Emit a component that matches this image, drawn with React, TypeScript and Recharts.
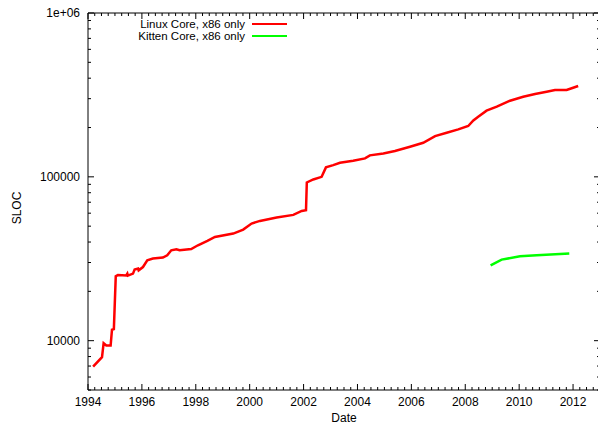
import { LineChart, Line, XAxis, YAxis, ReferenceLine } from 'recharts'

// Linux core SLOC (x86 only)
const LINUX_DATES = [
  1994.19, 1994.52, 1994.58, 1994.68, 1994.84, 1994.89, 1994.96, 1995.03, 1995.11, 1995.42,
  1995.46, 1995.48, 1995.67, 1995.73, 1995.86, 1995.88, 1996.04, 1996.2, 1996.41, 1996.78,
  1996.94, 1997.09, 1997.28, 1997.4, 1997.83, 1998.08, 1998.43, 1998.71, 1999.39, 1999.76,
  2000.07, 2000.38, 2001.0, 2001.62, 2001.93, 2002.09, 2002.12, 2002.36, 2002.67, 2002.83,
  2003.1, 2003.35, 2003.84, 2004.28, 2004.46, 2004.96, 2005.39, 2005.95, 2006.44, 2006.88,
  2007.31, 2007.74, 2008.11, 2008.3, 2008.48, 2008.79, 2009.17, 2009.66, 2010.15, 2010.59,
  2011.02, 2011.33, 2011.76, 2011.95, 2012.19,
]
const LINUX_SLOC = [
  6950, 7930, 9650, 9350, 9350, 11660, 11760, 24700, 25160, 25000,
  25660, 24930, 25660, 27140, 27530, 26880, 28150, 30940, 31700, 32140,
  33200, 35610, 36120, 35610, 36270, 38220, 40600, 42950, 45060, 47680,
  51880, 53820, 56460, 58560, 61940, 62550, 92400, 96400, 100000, 114200,
  117900, 121800, 125300, 129600, 135200, 139000, 143700, 152600, 161500, 177400,
  185800, 194900, 204200, 220700, 232800, 253300, 268000, 291500, 308500, 320500,
  331100, 339100, 339100, 347300, 358600,
]

// Kitten core SLOC (x86 only)
const KITTEN_DATES = [2008.94, 2009.35, 2010.03, 2010.65, 2011.86]
const KITTEN_SLOC = [28830, 31240, 32730, 33200, 33990]

const X_MIN = 1994
const X_MAX = 2013
const Y_MIN = 5000
const Y_MAX = 1000000

const linux = LINUX_DATES.map((t, i) => ({ t, v: LINUX_SLOC[i] }))
const kitten = KITTEN_DATES.map((t, i) => ({ t, v: KITTEN_SLOC[i] }))

// quarter-year ticks, labelled every two years
const xTicks: number[] = []
for (let q = X_MIN * 4; q <= X_MAX * 4; q++) xTicks.push(q / 4)

// log ticks 1..9 per decade
const yTicks: number[] = []
for (let d = 1000; d <= Y_MAX; d *= 10) {
  for (let m = 1; m <= 9; m++) {
    const v = d * m
    if (v >= Y_MIN && v <= Y_MAX) yTicks.push(v)
  }
}

const PLOT_TOP = 13
const PLOT_RIGHT = 600
const FONT = '"Liberation Sans", Arial, sans-serif'

function XTick(props: any) {
  const { x, y, payload } = props
  const v = payload.value
  const major = Math.abs(v - Math.round(v)) < 1e-6 && Math.round(v) % 2 === 0
  const len = major ? 6 : 3
  return (
    <g>
      <line x1={x} x2={x} y1={y} y2={y - len} stroke="#000" />
      <line x1={x} x2={x} y1={PLOT_TOP} y2={PLOT_TOP + len} stroke="#000" />
      {major && (
        <text x={x} y={y + 16} textAnchor="middle" fontSize={12} fill="#000" fontFamily={FONT}>
          {Math.round(v)}
        </text>
      )}
    </g>
  )
}

function YTick(props: any) {
  const { x, y, payload } = props
  const v = payload.value
  const major = Math.abs(Math.log10(v) - Math.round(Math.log10(v))) < 1e-6
  const len = major ? 6 : 3
  const label = v >= 1000000 ? '1e+06' : String(v)
  return (
    <g>
      <line x1={x} x2={x + len} y1={y} y2={y} stroke="#000" />
      <line x1={PLOT_RIGHT} x2={PLOT_RIGHT - len} y1={y} y2={y} stroke="#000" />
      {major && (
        <text x={x - 8} y={y + 4.3} textAnchor="end" fontSize={12} fill="#000" fontFamily={FONT}>
          {label}
        </text>
      )}
    </g>
  )
}

const legendRow = {
  position: 'absolute' as const,
  left: 0,
  width: 287,
  height: 12,
  display: 'flex',
  alignItems: 'center',
  justifyContent: 'flex-end',
  fontFamily: FONT,
  fontSize: 11.5,
  color: '#000',
  lineHeight: '12px',
  whiteSpace: 'nowrap' as const,
}

export default function App() {
  return (
    <div style={{ position: 'absolute', left: 0, top: 0, width: 598, height: 425, overflow: 'hidden', background: '#fff' }}>
      <LineChart width={600} height={425} margin={{ top: PLOT_TOP, right: 0, bottom: 0, left: 0 }}>
        <XAxis
          type="number"
          dataKey="t"
          domain={[X_MIN, X_MAX]}
          ticks={xTicks}
          interval={0}
          tickSize={0}
          tickMargin={0}
          tick={<XTick />}
          axisLine={{ stroke: '#000' }}
          height={35}
          allowDataOverflow
          label={{
            content: () => (
              <text x={344} y={422} textAnchor="middle" fontSize={12} fill="#000" fontFamily={FONT}>
                Date
              </text>
            ),
          }}
        />
        <YAxis
          type="number"
          scale="log"
          domain={[Y_MIN, Y_MAX]}
          ticks={yTicks}
          interval={0}
          tickSize={0}
          tickMargin={0}
          tick={<YTick />}
          axisLine={{ stroke: '#000' }}
          width={88}
          allowDataOverflow
          label={{
            content: () => (
              <text
                x={21}
                y={208}
                transform="rotate(-90 21 208)"
                textAnchor="middle"
                fontSize={12}
                fill="#000"
                fontFamily={FONT}
              >
                SLOC
              </text>
            ),
          }}
        />
        <ReferenceLine y={Y_MAX} stroke="#000" />
        <ReferenceLine x={X_MAX} stroke="#000" />
        <Line
          data={linux}
          dataKey="v"
          name="Linux Core, x86 only"
          type="linear"
          stroke="#ff0000"
          strokeWidth={2.5}
          dot={false}
          isAnimationActive={false}
        />
        <Line
          data={kitten}
          dataKey="v"
          name="Kitten Core, x86 only"
          type="linear"
          stroke="#00ff00"
          strokeWidth={2.5}
          dot={false}
          isAnimationActive={false}
        />
      </LineChart>
      <div style={{ ...legendRow, top: 18 }}>
        <span>Linux Core, x86 only</span>
        <span style={{ display: 'inline-block', width: 35, height: 2.5, background: '#ff0000', marginLeft: 7 }} />
      </div>
      <div style={{ ...legendRow, top: 30 }}>
        <span>Kitten Core, x86 only</span>
        <span style={{ display: 'inline-block', width: 35, height: 2.5, background: '#00ff00', marginLeft: 7 }} />
      </div>
    </div>
  )
}
